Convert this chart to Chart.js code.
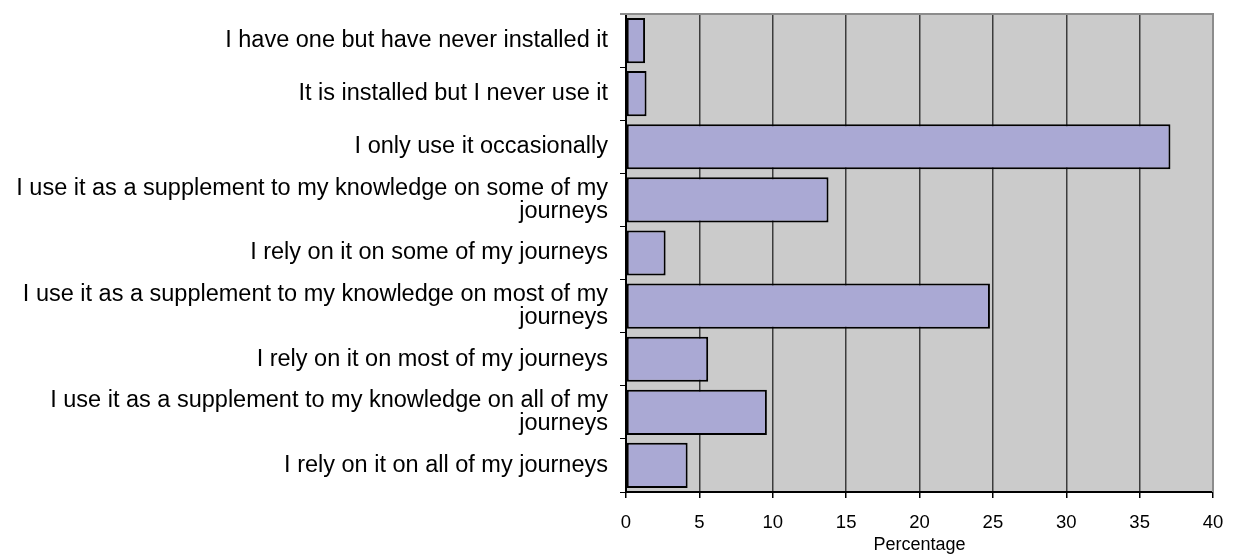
<!DOCTYPE html>
<html>
<head>
  <meta charset="UTF-8">
  <title>Sat nav use</title>
  <script src="https://cdn.jsdelivr.net/npm/chart.js"></script>
  <style>
    body {
      margin: 0;
      background: white;
      font-family: "Liberation Sans", Arial, sans-serif;
    }
    #wrap {
      width: 1241px;
      height: 556px;
    }
  </style>
</head>
<body>
  <div id="wrap"><canvas id="useChart"></canvas></div>

  <script>
    const categories = [
      'I have one but have never installed it',
      'It is installed but I never use it',
      'I only use it occasionally',
      ['I use it as a supplement to my knowledge on some of my', 'journeys'],
      'I rely on it on some of my journeys',
      ['I use it as a supplement to my knowledge on most of my', 'journeys'],
      'I rely on it on most of my journeys',
      ['I use it as a supplement to my knowledge on all of my', 'journeys'],
      'I rely on it on all of my journeys'
    ];
    const percentages = [1.3, 1.4, 37.1, 13.8, 2.7, 24.8, 5.6, 9.6, 4.2];
    const xTicks = [0, 5, 10, 15, 20, 25, 30, 35, 40];

    // grey plot background + top/right frame
    const plotBg = {
      id: 'plotBg',
      beforeDraw(chart) {
        const { ctx, chartArea: a } = chart;
        ctx.save();
        ctx.fillStyle = '#cbcbcb';
        ctx.fillRect(a.left, a.top, a.right - a.left, a.bottom - a.top);
        ctx.restore();
      },
      afterDatasetsDraw(chart) {
        const { ctx, chartArea: a } = chart;
        ctx.save();
        ctx.strokeStyle = '#8c8c8c';
        ctx.lineWidth = 2;
        ctx.beginPath();
        ctx.moveTo(a.left - 6, a.top);
        ctx.lineTo(a.right, a.top);
        ctx.lineTo(a.right, a.bottom);
        ctx.stroke();
        ctx.restore();
      }
    };

    Chart.defaults.font.family = '"Liberation Sans", Arial, sans-serif';
    Chart.defaults.color = '#000';

    new Chart(document.getElementById('useChart'), {
      type: 'bar',
      data: {
        labels: categories,
        datasets: [{
          data: percentages,
          backgroundColor: '#aaa9d4',
          borderColor: '#000',
          borderWidth: 2,
          borderSkipped: false,
          categoryPercentage: 0.85,
          barPercentage: 1
        }]
      },
      options: {
        indexAxis: 'y',
        responsive: true,
        maintainAspectRatio: false,
        animation: false,
        layout: { padding: { top: 14, right: 28, left: 0, bottom: 0 } },
        plugins: {
          legend: { display: false },
          tooltip: { enabled: false }
        },
        scales: {
          x: {
            min: 0,
            max: 40,
            afterBuildTicks(scale) {
              scale.ticks = xTicks.map(v => ({ value: v }));
            },
            ticks: { font: { size: 18.5 }, padding: 14 },
            grid: { color: '#3c3c3c', lineWidth: 1.5, tickLength: 6, tickColor: '#000' },
            border: { color: '#000', width: 2 },
            title: {
              display: true,
              text: 'Percentage',
              font: { size: 18 },
              padding: { top: 0, bottom: 0 }
            },
            afterFit(scale) { scale.height = 64; }
          },
          y: {
            ticks: { font: { size: 23.5, lineHeight: 0.98 }, padding: 12 },
            grid: { drawOnChartArea: false, tickLength: 6, tickColor: '#000', offset: true },
            border: { color: '#000', width: 2 },
            afterFit(scale) {
              scale.width = 626;
              scale.paddingTop = 0;
              scale.paddingBottom = 0;
            }
          }
        }
      },
      plugins: [plotBg]
    });
  </script>
</body>
</html>
